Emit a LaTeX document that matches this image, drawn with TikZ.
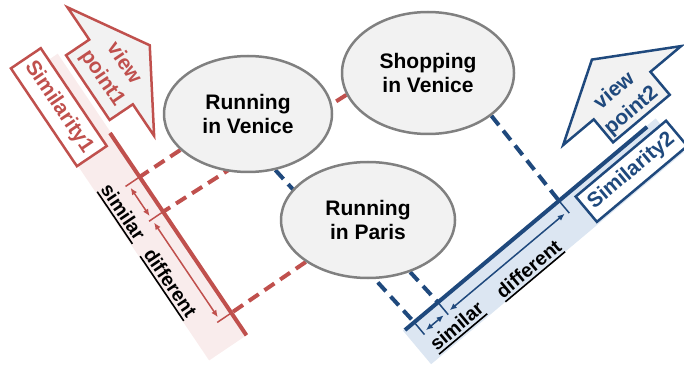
\documentclass[tikz,border=0pt]{standalone}
\usepackage{fontspec}
\setmainfont{Liberation Sans}[BoldFont={Liberation Sans Bold}]
\usetikzlibrary{arrows.meta,backgrounds,calc,shapes.geometric}

\definecolor{simred}{HTML}{C0504D}
\definecolor{simblue}{HTML}{1F497D}
\definecolor{redband}{HTML}{F9ECEC}
\definecolor{blueband}{HTML}{DCE6F2}
\definecolor{nodefill}{HTML}{F2F2F2}
\definecolor{nodeline}{HTML}{808080}

\newcommand\gapul[1]{\vtop{\hbox{#1}\kern2.5pt\hrule height1.6pt}}

\begin{document}
\begin{tikzpicture}[x=1pt, y=1pt,
    event/.style={ellipse, draw=nodeline, line width=2.5pt, fill=nodefill, inner sep=0pt, align=center,
      font=\fontsize{21}{23.5}\selectfont\bfseries},
    simbox/.style={draw, line width=2.5pt, fill=white, minimum width=118pt, minimum height=36pt, inner sep=2pt,
      font=\fontsize{21}{25}\selectfont\bfseries},
    viewtext/.style={align=center, inner sep=0pt, font=\fontsize{21}{26}\selectfont\bfseries},
    viewarrow/.style={line width=2.5pt, fill=nodefill, line join=miter},
    axisline/.style={line width=4pt},
    extline/.style={line width=1.5pt},
    dimline/.style={line width=1.5pt, {Latex[length=7pt,width=6pt]}-{Latex[length=7pt,width=6pt]},
      shorten >=4pt, shorten <=4pt},
    gaptext/.style={inner sep=1pt, font=\fontsize{19.5}{22}\selectfont\bfseries},
    projline/.style={line width=4pt, dash pattern=on 12pt off 7pt}]
  \useasboundingbox (0,0) rectangle (684,367);

  \node[event, minimum width=168pt, minimum height=116pt] (runven) at (248,253) {Running\\in Venice};
  \node[event, minimum width=172pt, minimum height=122pt] (shopven) at (428,294) {Shopping\\in Venice};
  \node[event, minimum width=174pt, minimum height=116pt] (runpar) at (368,147) {Running\\in Paris};

  % view point 1
  \begin{scope}[shift={(110,234)}, rotate=-56, transform shape]
    \fill[redband] (-95,-45) rectangle (244,1);
    \draw[axisline, simred] (0,0) -- (244,0);
    \foreach \n/\a in {r1/53, r2/95, r3/217} {
      \coordinate (\n) at (\a,0);
      \coordinate (\n-x) at (\a,-17);
      \draw[extline, simred] (\n) -- (\n-x);
    }
    \draw[dimline, simred] ($(r1)!0.8!(r1-x)$) -- ($(r2)!0.8!(r2-x)$);
    \draw[dimline, simred] ($(r2)!0.8!(r2-x)$) -- ($(r3)!0.8!(r3-x)$);
    \node[gaptext] (simlab1) at (73,-35) {\gapul{similar}};
    \node[gaptext] (difflab1) at (158,-35.5) {\gapul{different}};
    \node[simbox, draw=simred, text=simred] (simbox1) at (-50,-28) {Similarity1};
    \draw[viewarrow, draw=simred] (-128,35) -- (-50.5,82) -- (27,35) -- (-11,35) -- (-11,7)
      -- (-89,7) -- (-89,35) -- cycle;
    \node[viewtext, text=simred] (view1) at (-50,37) {view\\point1};
  \end{scope}

  % view point 2
  \begin{scope}[shift={(405,37)}, rotate=40, transform shape]
    \fill[blueband] (-2,-43) rectangle (328,1);
    \draw[axisline, simblue] (0,0) -- (316,0);
    \foreach \n/\a in {b1/12, b2/43, b3/201} {
      \coordinate (\n) at (\a,0);
      \coordinate (\n-x) at (\a,-16);
      \draw[extline, simblue] (\n) -- (\n-x);
    }
    \draw[dimline, simblue] ($(b1)!0.85!(b1-x)$) -- ($(b2)!0.85!(b2-x)$);
    \draw[dimline, simblue] ($(b2)!0.85!(b2-x)$) -- ($(b3)!0.85!(b3-x)$);
    \node[gaptext] (simlab2) at (42,-32) {\gapul{similar}};
    \node[gaptext] (difflab2) at (134,-34.5) {\gapul{different}};
    \node[simbox, draw=simblue, text=simblue, minimum height=33pt] (simbox2) at (275.5,-24) {Similarity2};
    \draw[viewarrow, draw=simblue] (240,40) -- (317,87) -- (394,40) -- (354,40) -- (354,10)
      -- (280,10) -- (280,40) -- cycle;
    \node[viewtext, text=simblue] (view2) at (314,35) {view\\point2};
  \end{scope}

  \begin{scope}[on background layer]
    \draw[projline, simred] (runven.208) -- (r1);
    \draw[projline, simred] (shopven.195) -- (r2);
    \draw[projline, simred] (runpar.214) -- (r3);
    \draw[projline, simblue] (runven.296) -- (b1);
    \draw[projline, simblue] (runpar.309) -- (b2);
    \draw[projline, simblue] (shopven.326) -- (b3);
  \end{scope}
\end{tikzpicture}
\end{document}
